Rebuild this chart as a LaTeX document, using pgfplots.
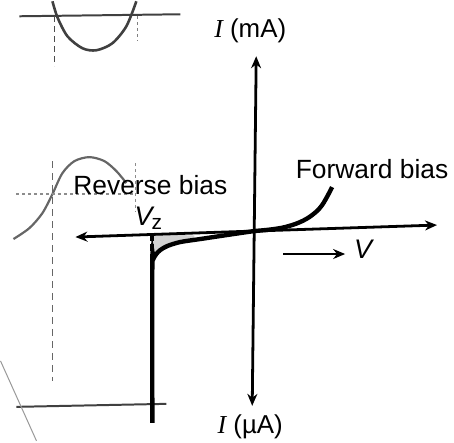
\documentclass[border=0pt]{standalone}
\usepackage{pgfplots}
\pgfplotsset{compat=1.18}
\usepackage{fontspec}
\setmainfont{Liberation Sans}
\newfontfamily\serifit{Liberation Serif}
\usetikzlibrary{arrows.meta}

\begin{document}
\begin{tikzpicture}
\begin{axis}[
  scale only axis,
  width=454bp, height=442bp,
  xmin=-254, xmax=200,
  ymin=-212, ymax=230,
  axis lines=none, ticks=none,
  clip=false,
]
\path (rel axis cs:0,0) rectangle (rel axis cs:1,1);

% faint traces from the facing page
\addplot[black!75, line width=2.6pt, smooth] coordinates
  {(-202,230) (-197,214) (-187,195) (-172,183) (-158,181) (-142,188) (-128,205) (-118,230)};
\addplot[black!75, line width=2.0pt] coordinates {(-235,215) (-74,217)};
\addplot[black!70, line width=1.7pt, dash pattern=on 6bp off 4bp] coordinates {(-200,215) (-200,165)};
\addplot[black!50, line width=1.2pt, dashed] coordinates {(-117,215) (-117,190)};
\addplot[black!60, line width=2.2pt, smooth] coordinates
  {(-241,-8) (-225,3) (-212,18) (-202,37) (-192,58) (-180,70) (-165,74) (-150,70) (-138,60) (-128,48)};
\addplot[black!45, line width=1.4pt, dashed] coordinates {(-238,37) (-120,37)};
\addplot[black!60, line width=1.5pt, dash pattern=on 7bp off 5bp] coordinates {(-202,70) (-202,-150)};
\addplot[black!45, line width=1.2pt, dashed] coordinates {(-119,68) (-119,20)};
\addplot[black!75, line width=2.0pt] coordinates {(-238,-176) (-88,-173)};
\addplot[black!40, line width=1.0pt] coordinates {(-254,-130) (-218,-210)};

% shaded knee region
\addplot[fill=black!18, draw=none] coordinates
  {(-101,-3.4) (-101,-28) (-98,-23) (-94,-19) (-87,-15) (-74,-11) (-60,-8.5) (-60,-4.4)} -- cycle;

% axes
\addplot[line width=2.8pt, -{Stealth[length=12bp,width=10bp]}] coordinates {(0,0) (183,6)};
\addplot[line width=2.8pt, -{Stealth[length=12bp,width=10bp]}] coordinates {(0,0) (-179,-6)};
\addplot[line width=2.8pt, -{Stealth[length=12bp,width=10bp]}] coordinates {(0,0) (2,175)};
\addplot[line width=2.8pt, -{Stealth[length=12bp,width=10bp]}] coordinates {(0,0) (-2,-175)};

% Zener voltage marker
\addplot[line width=3.8pt, dash pattern=on 7bp off 3bp] coordinates {(-102,-3.4) (-102,-30)};

% diode characteristic
\addplot[line width=4.4pt, smooth, tension=0.5] coordinates
  {(-102,-192) (-102,-33) (-101,-28) (-98,-23) (-94,-19) (-87,-15) (-74,-11)
   (-54,-8) (-24,-3.5) (0,0)};
\addplot[line width=4.4pt, smooth, tension=0.6] coordinates
  {(0,0) (16,1.5) (31,4) (46,9) (58,16) (68,26) (78,44)};

% direction of increasing voltage
\addplot[line width=2.8pt, -{Stealth[length=12bp,width=10bp]}] coordinates {(29,-23) (91,-23)};

\node at (axis cs:-4,200) {\fontsize{26}{30}\selectfont{\serifit\itshape I} (mA)};
\node at (axis cs:-4,-196) {\fontsize{26}{30}\selectfont{\serifit\itshape I} (µA)};
\node at (axis cs:118,62) {\fontsize{26.5}{30}\selectfont Forward bias};
\node at (axis cs:-104,46) {\fontsize{26.5}{30}\selectfont Reverse bias};
\node at (axis cs:-106,13) {\fontsize{27}{30}\selectfont\itshape V\kern-1bp\raisebox{-4bp}{\upshape\fontsize{21}{24}\selectfont z}};
\node at (axis cs:109,-18) {\fontsize{27}{30}\selectfont\itshape V};
\end{axis}
\end{tikzpicture}
\end{document}
